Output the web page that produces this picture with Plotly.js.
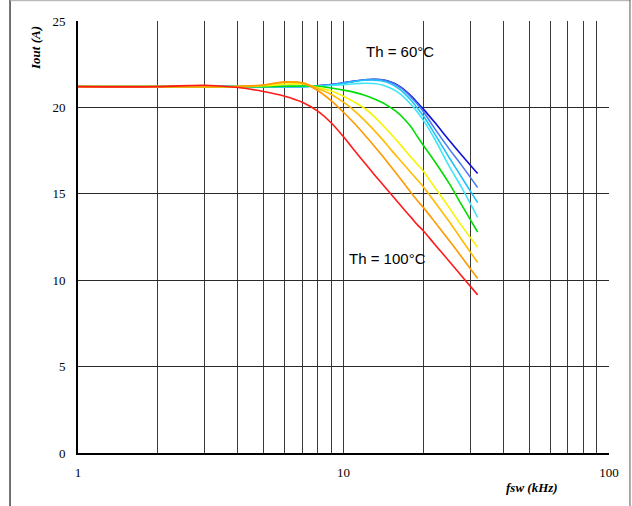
<!DOCTYPE html>
<html>
<head>
<meta charset="utf-8">
<script src="https://cdn.plot.ly/plotly-3.0.1.min.js"></script>
<style>
html,body{margin:0;padding:0;background:#fff;}
#chart{width:632px;height:506px;}
</style>
</head>
<body>
<div id="chart"></div>
<script>
// switching frequency (kHz)
const fsw = [1, 2, 3, 4, 5, 6, 7, 8, 9, 10, 11, 12, 13, 14, 15, 16, 17, 18, 19, 20, 22, 25, 28, 32];

// output current (A) per heatsink temperature
const th60  = [21.2, 21.2, 21.2, 21.2, 21.2, 21.2, 21.2, 21.25, 21.32, 21.42, 21.52, 21.6, 21.63, 21.6, 21.48, 21.28, 21.0, 20.65, 20.27, 19.9, 19.15, 18.1, 17.2, 16.17];
const th65  = [21.2, 21.2, 21.2, 21.2, 21.2, 21.2, 21.2, 21.25, 21.32, 21.42, 21.52, 21.6, 21.63, 21.6, 21.47, 21.25, 20.96, 20.58, 20.18, 19.75, 18.8, 17.6, 16.6, 15.36];
const th70  = [21.2, 21.2, 21.2, 21.2, 21.2, 21.2, 21.2, 21.24, 21.3, 21.4, 21.5, 21.57, 21.58, 21.53, 21.38, 21.13, 20.8, 20.4, 19.95, 19.5, 18.5, 17.1, 15.9, 14.49];
const th75  = [21.2, 21.2, 21.2, 21.2, 21.2, 21.2, 21.2, 21.22, 21.27, 21.32, 21.37, 21.4, 21.38, 21.3, 21.12, 20.88, 20.55, 20.15, 19.72, 19.25, 18.2, 16.6, 15.3, 13.64];
const th80  = [21.2, 21.2, 21.2, 21.2, 21.2, 21.22, 21.24, 21.22, 21.12, 21.0, 20.87, 20.7, 20.5, 20.28, 20.0, 19.7, 19.3, 18.85, 18.3, 17.8, 16.9, 15.6, 14.3, 12.79];
const th85  = [21.2, 21.2, 21.2, 21.2, 21.25, 21.33, 21.35, 21.15, 20.95, 20.65, 20.3, 19.95, 19.5, 19.0, 18.5, 18.02, 17.55, 17.1, 16.7, 16.3, 15.4, 14.2, 13.1, 11.91];
const th90  = [21.2, 21.2, 21.2, 21.2, 21.3, 21.45, 21.42, 21.1, 20.75, 20.3, 19.8, 19.25, 18.7, 18.15, 17.6, 17.1, 16.65, 16.2, 15.8, 15.4, 14.55, 13.4, 12.3, 11.02];
const th95  = [21.2, 21.2, 21.2, 21.2, 21.3, 21.48, 21.42, 20.98, 20.38, 19.72, 19.07, 18.42, 17.8, 17.2, 16.62, 16.07, 15.55, 15.05, 14.6, 14.2, 13.4, 12.3, 11.3, 10.1];
const th100 = [21.2, 21.2, 21.28, 21.15, 20.92, 20.65, 20.3, 19.78, 19.1, 18.3, 17.5, 16.8, 16.15, 15.57, 15.03, 14.52, 14.05, 13.62, 13.2, 12.85, 12.1, 11.1, 10.2, 9.15];

const seriesValues = [th60, th65, th70, th75, th80, th85, th90, th95, th100];
const seriesColors = ['#1010dc', '#4a7cf0', '#1ec2f8', '#3ee6f6', '#00dd00', '#f5f500', '#ffbb00', '#ff9900', '#ff1a1a'];

// axis ticks
const xGridVals = [1, 2, 3, 4, 5, 6, 7, 8, 9, 10, 20, 30, 40, 50, 60, 70, 80, 90, 100];
const xTickText = ['1', '', '', '', '', '', '', '', '', '10', '', '', '', '', '', '', '', '', '100'];
const yTickVals = [0, 5, 10, 15, 20, 25];

const traces = seriesValues.map((vals, i) => ({
  x: fsw,
  y: vals,
  type: 'scatter',
  mode: 'lines',
  line: {color: seriesColors[i], width: 1.6, shape: 'spline', smoothing: 1},
  hoverinfo: 'skip',
  showlegend: false
}));

const serif = 'Liberation Serif, Times New Roman, serif';
const sans = 'Liberation Sans, Arial, sans-serif';

const layout = {
  width: 632,
  height: 506,
  margin: {l: 78, r: 23, t: 21, b: 53},
  paper_bgcolor: '#ffffff',
  plot_bgcolor: '#ffffff',
  showlegend: false,
  xaxis: {
    type: 'log',
    range: [0, 2],
    tickvals: xGridVals,
    ticktext: xTickText,
    ticks: '',
    showgrid: true,
    gridcolor: '#3a3a3a',
    gridwidth: 1,
    showline: true,
    linecolor: '#000',
    linewidth: 2,
    zeroline: false,
    tickfont: {family: serif, size: 13, color: '#000'},
    ticklabelstandoff: 6,
    fixedrange: true
  },
  yaxis: {
    range: [0, 25],
    tickvals: yTickVals,
    ticks: '',
    showgrid: true,
    gridcolor: '#2a2a2a',
    gridwidth: 1,
    showline: true,
    linecolor: '#000',
    linewidth: 2,
    zeroline: false,
    tickfont: {family: serif, size: 13, color: '#000'},
    ticklabelstandoff: 8,
    fixedrange: true
  },
  annotations: [
    {xref: 'paper', yref: 'paper', x: -0.081, y: 0.9375, text: '<b><i>Iout (A)</i></b>', textangle: -90,
     showarrow: false, font: {family: serif, size: 13, color: '#000'}, xanchor: 'center', yanchor: 'middle'},
    {xref: 'paper', yref: 'paper', x: 0.855, y: -0.081, text: '<b><i>fsw (kHz)</i></b>',
     showarrow: false, font: {family: serif, size: 13, color: '#000'}, xanchor: 'center', yanchor: 'middle'},
    {xref: 'x', yref: 'y', x: Math.log10(16.3), y: 23.25, text: 'Th = 60°C',
     showarrow: false, font: {family: sans, size: 15, color: '#000'}, xanchor: 'center', yanchor: 'middle'},
    {xref: 'x', yref: 'y', x: Math.log10(14.6), y: 11.25, text: 'Th = 100°C',
     showarrow: false, font: {family: sans, size: 15, color: '#000'}, xanchor: 'center', yanchor: 'middle'}
  ],
  shapes: [
    {type: 'line', xref: 'paper', yref: 'paper', x0: -0.128, x1: -0.128, y0: -0.13, y1: 1.05, line: {color: '#444', width: 1.5}},
    {type: 'line', xref: 'paper', yref: 'paper', x0: -0.128, x1: 1.04, y0: 1.047, y1: 1.047, line: {color: '#aaa', width: 1}},
    {type: 'line', xref: 'paper', yref: 'paper', x0: 1.0395, x1: 1.0395, y0: -0.13, y1: 1.05, line: {color: '#555', width: 1}}
  ]
};

Plotly.newPlot('chart', traces, layout, {staticPlot: true, displayModeBar: false});
</script>
</body>
</html>
